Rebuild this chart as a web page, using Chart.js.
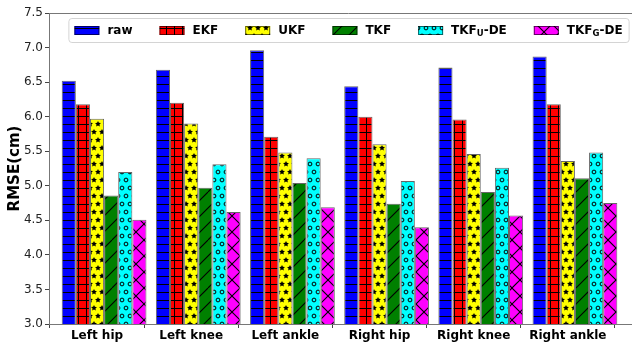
<!DOCTYPE html>
<html>
<head>
<meta charset="utf-8">
<script src="https://cdn.jsdelivr.net/npm/chart.js@4.4.1/dist/chart.umd.min.js"></script>
<style>
  html, body { margin: 0; padding: 0; overflow: hidden; background: #fff; }
  #wrap { width: 650px; height: 347px; }
</style>
</head>
<body>
<div id="wrap"><canvas id="c" width="650" height="347"></canvas></div>
<script>
// Joint names along the x axis
const joints = ['Left hip', 'Left knee', 'Left ankle', 'Right hip', 'Right knee', 'Right ankle'];

// RMSE per joint (cm) for each filter
const raw  = [6.52, 6.68, 6.96, 6.44, 6.71, 6.87];
const ekf  = [6.18, 6.20, 5.71, 6.00, 5.96, 6.18];
const ukf  = [5.97, 5.90, 5.48, 5.60, 5.46, 5.36];
const tkf  = [4.86, 4.97, 5.04, 4.74, 4.91, 5.11];
const tkfU = [5.20, 5.31, 5.40, 5.07, 5.26, 5.48];
const tkfG = [4.51, 4.62, 4.69, 4.40, 4.57, 4.75];

// Series names ("_X" marks a one-letter subscript) and y tick values
const seriesNames = ['raw', 'EKF', 'UKF', 'TKF', 'TKF_U-DE', 'TKF_G-DE'];
const yTicks = [3.0, 3.5, 4.0, 4.5, 5.0, 5.5, 6.0, 6.5, 7.0, 7.5];

const FAMILY = '"DejaVu Sans", "Liberation Sans", sans-serif';
const CAT_PCT = 0.9;

// Build a repeating hatch tile: fill colour plus a black line/shape pattern
function hatch(fill, kind) {
  const s = 8, T = s * 6, offX = 6, offY = 4;
  const cv = document.createElement('canvas');
  cv.width = cv.height = T;
  const g = cv.getContext('2d');
  g.fillStyle = fill;
  g.fillRect(0, 0, T, T);
  g.strokeStyle = '#000';
  g.fillStyle = '#000';
  g.lineWidth = 1;
  const line = (x1, y1, x2, y2) => { g.beginPath(); g.moveTo(x1, y1); g.lineTo(x2, y2); g.stroke(); };
  if (kind === '-' || kind === '+') {
    for (let k = 0; k < 6; k++) { const y = k * s + offY + 0.5; line(0, y, T, y); }
  }
  if (kind === '+') {
    for (let k = 0; k < 6; k++) { const x = k * s + offX + 0.5; line(x, 0, x, T); }
  }
  if (kind === '/' || kind === 'x') {
    g.lineWidth = 1.1;
    for (let k = 0; k <= 6; k++) { const c = k * 2 * s; line(c - T, T, c, 0); }
  }
  if (kind === 'x') {
    for (let k = -3; k <= 3; k++) { const c = k * 2 * s; line(c, 0, c + T, T); }
  }
  if (kind === '*' || kind === 'o') {
    for (let r = -1; r <= 7; r++) {
      const y = r * s + offY;
      const odd = ((r % 2) + 2) % 2 === 1;
      for (let j = -1; j <= 7; j++) {
        const x = (j + (odd ? 0.5 : 0)) * s + offX;
        g.beginPath();
        if (kind === '*') {
          const R = 3.1, rIn = R * 0.5;
          for (let p = 0; p < 10; p++) {
            const a = -Math.PI / 2 + p * Math.PI / 5;
            const rr = p % 2 === 0 ? R : rIn;
            const px = x + rr * Math.cos(a), py = y + rr * Math.sin(a);
            p === 0 ? g.moveTo(px, py) : g.lineTo(px, py);
          }
          g.closePath();
          g.fill();
        } else {
          g.arc(x, y, 1.9, 0, Math.PI * 2);
          g.lineWidth = 1;
          g.stroke();
        }
      }
    }
  }
  return g.createPattern(cv, 'repeat');
}

const fills = [
  hatch('#0000ff', '-'),
  hatch('#ff0000', '+'),
  hatch('#ffff00', '*'),
  hatch('#008000', '/'),
  hatch('#00ffff', 'o'),
  hatch('#ff00ff', 'x')
];
const EDGE = 'rgba(0,0,0,0.6)';

const seriesValues = [raw, ekf, ukf, tkf, tkfU, tkfG];
const datasets = seriesValues.map((vals, k) => ({
  label: seriesNames[k],
  data: vals.map((v, i) => ({ x: i, y: v })),
  backgroundColor: fills[k],
  borderColor: EDGE,
  borderWidth: 1,
  borderSkipped: false,
  categoryPercentage: CAT_PCT,
  barPercentage: 1.0
}));

// Ticks sit under the middle bar pair of each group
const tickShift = CAT_PCT / seriesNames.length / 2;

// Top spine of the axes box
const frame = {
  id: 'frame',
  afterDraw(chart) {
    const { ctx, chartArea: a } = chart;
    ctx.save();
    ctx.strokeStyle = '#777';
    ctx.lineWidth = 1;
    ctx.beginPath();
    ctx.moveTo(a.left, a.top + 0.5);
    ctx.lineTo(a.right, a.top + 0.5);
    ctx.stroke();
    ctx.restore();
  }
};

// Single-row legend with hatched swatches and subscripted names
const hatchLegend = {
  id: 'hatchLegend',
  afterDraw(chart) {
    const { ctx, chartArea: a } = chart;
    const mainFont = 'bold 12px ' + FAMILY;
    const subFont = 'bold 8.5px ' + FAMILY;
    const SW = 25, SH = 9, GAP = 8, SPACING = 27, PAD = 6, H = 24;
    ctx.save();
    const items = chart.data.datasets.map(ds => {
      const m = ds.label.match(/^(.*?)_(.)(.*)$/);
      const parts = m ? [[m[1], mainFont, 0], [m[2], subFont, 3], [m[3], mainFont, 0]] : [[ds.label, mainFont, 0]];
      let w = 0;
      parts.forEach(p => { ctx.font = p[1]; p.push(ctx.measureText(p[0]).width); w += p[3]; });
      return { ds, parts, w: SW + GAP + w };
    });
    const total = PAD * 2 + items.reduce((t, it) => t + it.w, 0) + SPACING * (items.length - 1);
    const x0 = (a.left + a.right) / 2 - total / 2;
    const y0 = a.top + 5;
    ctx.beginPath();
    ctx.roundRect(x0 + 0.5, y0 + 0.5, total, H, 3);
    ctx.fillStyle = 'rgba(255,255,255,0.8)';
    ctx.fill();
    ctx.strokeStyle = '#d4d4d4';
    ctx.lineWidth = 1;
    ctx.stroke();
    const cy = y0 + H / 2 + 0.5;
    let x = x0 + PAD;
    items.forEach(it => {
      ctx.fillStyle = it.ds.backgroundColor;
      ctx.fillRect(x, cy - SH / 2, SW, SH);
      ctx.strokeStyle = EDGE;
      ctx.strokeRect(x + 0.5, cy - SH / 2 + 0.5, SW - 1, SH - 1);
      let tx = x + SW + GAP;
      ctx.fillStyle = '#000';
      ctx.textBaseline = 'middle';
      ctx.textAlign = 'left';
      it.parts.forEach(p => {
        ctx.font = p[1];
        ctx.fillText(p[0], tx, cy + p[2]);
        tx += p[3];
      });
      x += it.w + SPACING;
    });
    ctx.restore();
  }
};

new Chart(document.getElementById('c'), {
  type: 'bar',
  data: { datasets },
  options: {
    responsive: false,
    animation: false,
    layout: { padding: { left: 0, right: 2, top: 13, bottom: 0 } },
    plugins: { legend: { display: false }, tooltip: { enabled: false } },
    scales: {
      x: {
        type: 'linear',
        min: -0.585,
        max: 5.776,
        bounds: 'data',
        offset: false,
        afterBuildTicks: s => { s.ticks = joints.map((_, i) => ({ value: i - tickShift })); },
        ticks: {
          callback: (v, i) => joints[i],
          font: { family: FAMILY, size: 12, weight: 'bold' },
          color: '#000',
          maxRotation: 0,
          autoSkip: false,
          padding: 1
        },
        grid: { display: true, drawOnChartArea: false, drawTicks: true, tickLength: 4, tickColor: '#444' },
        border: { display: true, color: '#777', width: 1 },
        afterFit: s => { s.height = 23; }
      },
      y: {
        min: 3,
        max: 7.5,
        afterBuildTicks: s => { s.ticks = yTicks.map(v => ({ value: v })); },
        ticks: {
          callback: v => v.toFixed(1),
          font: { family: FAMILY, size: 12 },
          color: '#222',
          padding: 2
        },
        grid: { display: true, drawOnChartArea: false, drawTicks: true, tickLength: 4, tickColor: '#444' },
        border: { display: true, color: '#777', width: 1 },
        title: {
          display: true,
          text: 'RMSE(cm)',
          font: { family: FAMILY, size: 15, weight: 'bold', lineHeight: 1 },
          color: '#000',
          padding: { top: 8, bottom: 0 }
        },
        afterFit: s => { s.width = 49; }
      }
    }
  },
  plugins: [frame, hatchLegend]
});
</script>
</body>
</html>
